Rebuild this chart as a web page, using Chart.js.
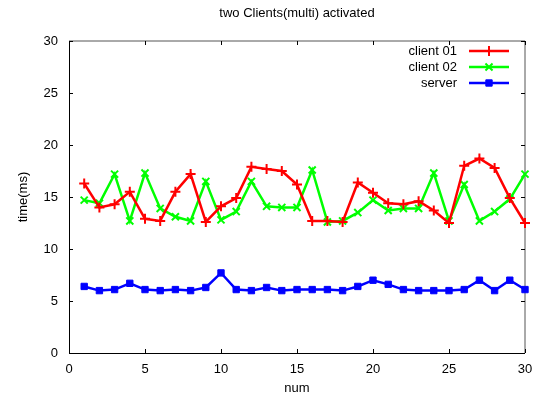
<!DOCTYPE html>
<html>
<head>
<meta charset="utf-8">
<script src="https://cdn.jsdelivr.net/npm/chart.js@4.4.0/dist/chart.umd.min.js"></script>
<style>
    html, body { margin: 0; padding: 0; background: #fff; }
</style>
</head>
<body>
<canvas id="timeChart" width="538" height="404"></canvas>
<script>
// Data
const titleText = 'two Clients(multi) activated';
const num = [1, 2, 3, 4, 5, 6, 7, 8, 9, 10, 11, 12, 13, 14, 15, 16, 17, 18, 19, 20, 21, 22, 23, 24, 25, 26, 27, 28, 29, 30];
const client01 = [16.3, 14.0, 14.3, 15.5, 12.9, 12.7, 15.5, 17.2, 12.6, 14.1, 14.9, 17.9, 17.7, 17.5, 16.2, 12.7, 12.7, 12.6, 16.4, 15.4, 14.4, 14.3, 14.6, 13.7, 12.5, 18.0, 18.7, 17.8, 14.9, 12.5];
const client02 = [14.7, 14.4, 17.2, 12.7, 17.3, 13.9, 13.1, 12.7, 16.5, 12.8, 13.6, 16.5, 14.1, 14.0, 14.0, 17.6, 12.6, 12.7, 13.5, 14.7, 13.7, 13.9, 13.9, 17.3, 12.7, 16.2, 12.7, 13.6, 14.8, 17.2];
const server = [6.4, 6.0, 6.1, 6.7, 6.1, 6.0, 6.1, 6.0, 6.3, 7.7, 6.1, 6.0, 6.3, 6.0, 6.1, 6.1, 6.1, 6.0, 6.4, 7.0, 6.6, 6.1, 6.0, 6.0, 6.0, 6.1, 7.0, 6.0, 7.0, 6.1];
const xTicks = [0, 5, 10, 15, 20, 25, 30];
const yTicks = [0, 5, 10, 15, 20, 25, 30];

const FONT = '"Liberation Sans", Arial, sans-serif';
Chart.defaults.font.family = FONT;
Chart.defaults.font.size = 13;
Chart.defaults.color = '#000';

function toPoints(values) {
    return num.map((n, i) => ({ x: n, y: values[i] }));
}

// gnuplot-like border with inward ticks on all four sides
const framePlugin = {
    id: 'frame',
    beforeDatasetsDraw(chart) {
        const ctx = chart.ctx;
        const a = chart.chartArea;
        const xs = chart.scales.x;
        const ys = chart.scales.y;
        const len = 4;
        ctx.save();
        ctx.lineWidth = 1;
        ctx.strokeStyle = '#000';
        ctx.beginPath();
        ctx.moveTo(a.left + 0.5, a.top);
        ctx.lineTo(a.left + 0.5, a.bottom + 0.5);
        ctx.lineTo(a.right, a.bottom + 0.5);
        ctx.stroke();
        ctx.strokeStyle = '#555';
        ctx.beginPath();
        ctx.moveTo(a.left, a.top);
        ctx.lineTo(a.right, a.top);
        ctx.lineTo(a.right, a.bottom);
        ctx.stroke();

        ctx.strokeStyle = '#000';
        ctx.beginPath();
        xs.ticks.forEach(t => {
            const px = Math.round(xs.getPixelForValue(t.value)) + 0.5;
            ctx.moveTo(px, a.bottom);
            ctx.lineTo(px, a.bottom - len);
            ctx.moveTo(px, a.top);
            ctx.lineTo(px, a.top + len);
        });
        ys.ticks.forEach(t => {
            const py = Math.round(ys.getPixelForValue(t.value)) + 0.5;
            ctx.moveTo(a.left, py);
            ctx.lineTo(a.left + len, py);
            ctx.moveTo(a.right, py);
            ctx.lineTo(a.right - len, py);
        });
        ctx.stroke();
        ctx.restore();
    }
};

// Title centred over the plot area, key in the top right corner
const headPlugin = {
    id: 'head',
    afterDraw(chart) {
        const ctx = chart.ctx;
        const a = chart.chartArea;
        ctx.save();
        ctx.font = '13px ' + FONT;
        ctx.fillStyle = '#000';
        ctx.textAlign = 'center';
        ctx.textBaseline = 'middle';
        ctx.fillText(titleText, (a.left + a.right) / 2, 13);

        ctx.textAlign = 'right';
        chart.data.datasets.forEach((ds, i) => {
            const y = a.top + 10 + i * 16;
            ctx.fillStyle = '#000';
            ctx.fillText(ds.label, a.right - 68, y);
            ctx.strokeStyle = ds.borderColor;
            ctx.fillStyle = ds.borderColor;
            ctx.lineWidth = ds.borderWidth;
            ctx.beginPath();
            ctx.moveTo(a.right - 56, y);
            ctx.lineTo(a.right - 16, y);
            ctx.stroke();
            ctx.lineWidth = ds.pointBorderWidth;
            Chart.helpers.drawPoint(ctx, {
                pointStyle: ds.pointStyle,
                radius: ds.pointRadius,
                borderWidth: ds.pointBorderWidth,
                rotation: 0
            }, a.right - 36, y);
        });
        ctx.restore();
    }
};

const ctx = document.getElementById('timeChart').getContext('2d');
const timeChart = new Chart(ctx, {
    type: 'line',
    data: {
        datasets: [{
            label: 'client 01',
            data: toPoints(client01),
            borderColor: '#ff0000',
            backgroundColor: '#ff0000',
            borderWidth: 2.5,
            pointStyle: 'cross',
            pointRadius: 5,
            pointBorderWidth: 2,
            clip: false
        }, {
            label: 'client 02',
            data: toPoints(client02),
            borderColor: '#00ff00',
            backgroundColor: '#00ff00',
            borderWidth: 2.5,
            pointStyle: 'crossRot',
            pointRadius: 5,
            pointBorderWidth: 2,
            clip: false
        }, {
            label: 'server',
            data: toPoints(server),
            borderColor: '#0000ff',
            backgroundColor: '#0000ff',
            borderWidth: 2.5,
            pointStyle: 'rect',
            pointRadius: 4.5,
            pointBorderWidth: 1,
            clip: false
        }]
    },
    options: {
        responsive: false,
        animation: false,
        events: [],
        layout: { padding: { top: 41, right: 13, bottom: 0, left: 0 } },
        elements: { line: { tension: 0 } },
        plugins: {
            legend: { display: false },
            title: { display: false },
            tooltip: { enabled: false }
        },
        scales: {
            x: {
                type: 'linear',
                min: 0,
                max: 30,
                afterBuildTicks: scale => { scale.ticks = xTicks.map(v => ({ value: v })); },
                afterFit: scale => {
                    scale.height = 51;
                    scale.paddingLeft = 0;
                    scale.paddingRight = 0;
                },
                grid: { display: false, drawTicks: false },
                border: { display: false },
                ticks: { padding: 9, maxRotation: 0, autoSkip: false },
                title: { display: true, text: 'num', padding: { top: 0, bottom: 8 } }
            },
            y: {
                type: 'linear',
                min: 0,
                max: 30,
                afterBuildTicks: scale => { scale.ticks = yTicks.map(v => ({ value: v })); },
                afterFit: scale => { scale.width = 69; },
                grid: { display: false, drawTicks: false },
                border: { display: false },
                ticks: { padding: 11 },
                title: { display: true, text: 'time(ms)', padding: { top: 16, bottom: 0 } }
            }
        }
    },
    plugins: [framePlugin, headPlugin]
});
</script>
</body>
</html>
